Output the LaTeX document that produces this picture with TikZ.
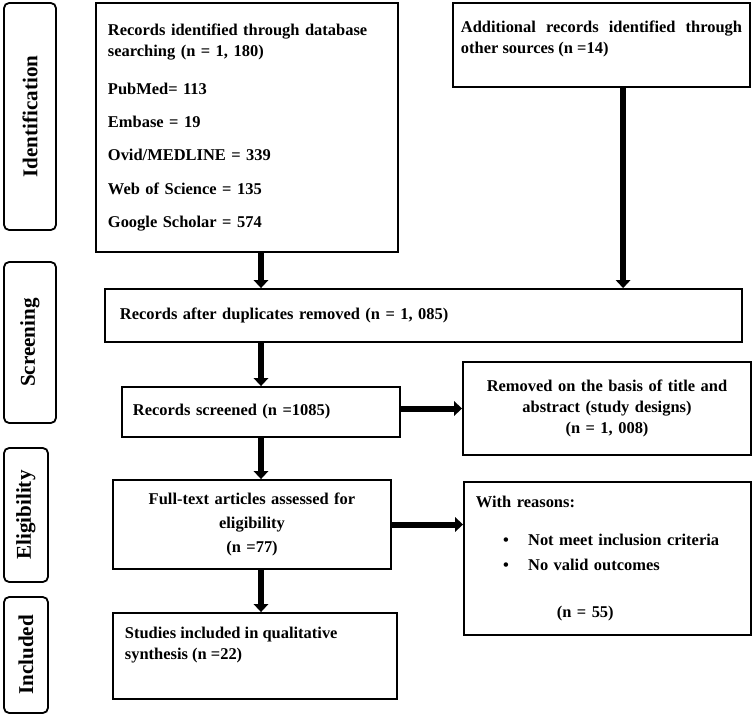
\documentclass[tikz,border=0pt]{standalone}
\usepackage{fontspec}
\setmainfont{Liberation Serif}
\usetikzlibrary{arrows.meta}
\begin{document}
\begin{tikzpicture}[x=0.025cm,y=-0.025cm,
	font=\fontsize{11.7}{14.9}\selectfont\bfseries,
	box/.style={draw,line width=1.3pt,inner sep=0pt},
	phase/.style={draw,line width=1.3pt,rounded corners=0.13cm,rotate=90,inner sep=0pt,font=\fontsize{15}{18}\selectfont\bfseries},
	flow/.style={line width=0.15cm,-{Triangle[width=0.36cm,length=0.2cm]}}]
	\useasboundingbox (0,0) rectangle (755,717);
	\node [phase,minimum width=5.675cm,minimum height=1.3cm] (ident) at (30,116.5) {Identification};
	\node [phase,minimum width=4.025cm,minimum height=1.3cm] (screen) at (30,342.5) {Screening};
	\node [phase,minimum width=3.35cm,minimum height=1.1cm] (elig) at (26,515) {Eligibility};
	\node [phase,minimum width=2.9cm,minimum height=1.1cm] (incl) at (26,655) {Included};
	\node [box,minimum width=7.55cm,minimum height=6.225cm,text width=6.95cm,align=left] (db) at (247,127.5) {Records identified through database\\searching (n = 1, 180)\\[0.42cm]PubMed= 113\\[0.31cm]Embase = 19\\[0.31cm]Ovid/MEDLINE = 339\\[0.31cm]Web of Science = 135\\[0.31cm]Google Scholar = 574};
	\node [box,minimum width=7.425cm,minimum height=2.1cm] (other) at (601.5,45) {\parbox[t][1.2cm][t]{7.025cm}{Additional records identified through other sources (n =14)}};
	\node [box,minimum width=15.925cm,minimum height=1.325cm,text width=15.175cm,align=left] (dup) at (423.5,315.5) {Records after duplicates removed (n = 1, 085)};
	\node [box,minimum width=6.95cm,minimum height=1.25cm,text width=6.4cm,align=left] (screened) at (261,412) {Records screened (n =1085)};
	\node [box,minimum width=7.2cm,minimum height=2.325cm,text width=6.8cm,align=center] (removed) at (607,408.5) {Removed on the basis of title and\\abstract (study designs)\\(n = 1, 008)};
	\node [box,minimum width=6.95cm,minimum height=2.225cm,text width=6.5cm,align=center] (fulltext) at (252,524.5) {Full-text articles assessed for\\[0.08cm]eligibility\\[0.08cm](n =77)};
	\node [box,minimum width=7.175cm,minimum height=3.825cm,text width=6.575cm,align=left] (reasons) at (607.5,558.5) {With reasons:\\[0.42cm]\hspace*{0.68cm}\textbullet\hspace{0.48cm}Not meet inclusion criteria\\[0.1cm]\hspace*{0.68cm}\textbullet\hspace{0.48cm}No valid outcomes\\[0.65cm]\hspace*{2.02cm}(n = 55)};
	\node [box,minimum width=7.1cm,minimum height=2.15cm] (studies) at (255,656) {\parbox[t][1.45cm][t]{6.5cm}{Studies included in qualitative\\synthesis (n =22)}};
	\draw [flow] (db.south -| screened) -- (dup.north -| screened);
	\draw [flow] ([xshift=0.54cm]other.south) -- ([xshift=0.54cm]other.south |- dup.north);
	\draw [flow] (dup.south -| screened) -- (screened.north);
	\draw [flow] (screened.south) -- (fulltext.north -| screened.south);
	\draw [flow] (fulltext.south -| screened) -- (studies.north -| screened);
	\draw [flow] (screened.east |- removed.west) -- (removed.west);
	\draw [flow] (fulltext.east) -- (fulltext.east -| reasons.west);
\end{tikzpicture}
\end{document}
